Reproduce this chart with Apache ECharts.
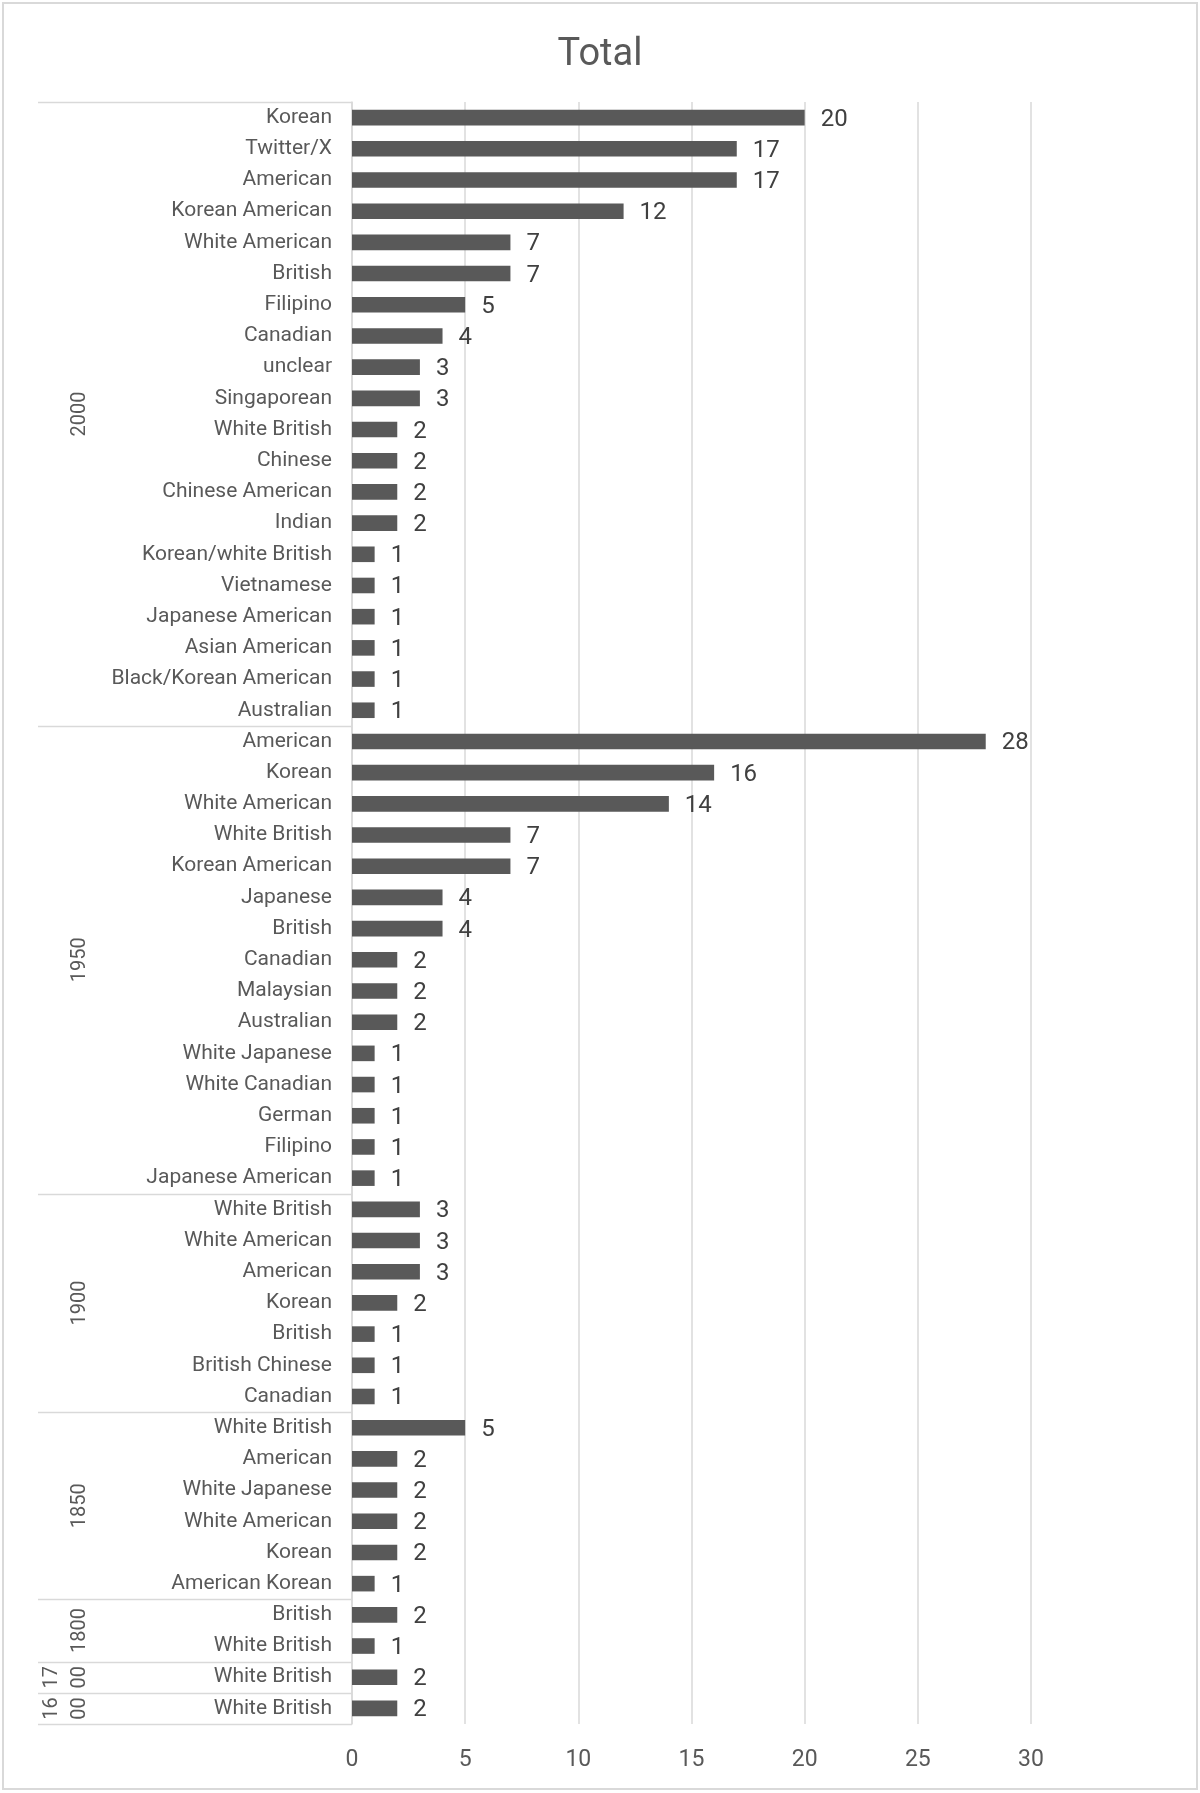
<!DOCTYPE html>
<html>
<head>
<meta charset="utf-8">
<script src="https://cdn.jsdelivr.net/npm/echarts@6/dist/echarts.min.js"></script>
<style>
  html, body { margin: 0; padding: 0; background: #fff; }
  #main { width: 1200px; height: 1793px; }
</style>
</head>
<body>
<div id="main"></div>
<script>
// group (year) labels, top to bottom
var groups = ['2000', '1950', '1900', '1850', '1800', '1700', '1600'];

var cats2000 = ['Korean', 'Twitter/X', 'American', 'Korean American', 'White American', 'British',
  'Filipino', 'Canadian', 'unclear', 'Singaporean', 'White British', 'Chinese', 'Chinese American',
  'Indian', 'Korean/white British', 'Vietnamese', 'Japanese American', 'Asian American',
  'Black/Korean American', 'Australian'];
var vals2000 = [20, 17, 17, 12, 7, 7, 5, 4, 3, 3, 2, 2, 2, 2, 1, 1, 1, 1, 1, 1];

var cats1950 = ['American', 'Korean', 'White American', 'White British', 'Korean American', 'Japanese',
  'British', 'Canadian', 'Malaysian', 'Australian', 'White Japanese', 'White Canadian', 'German',
  'Filipino', 'Japanese American'];
var vals1950 = [28, 16, 14, 7, 7, 4, 4, 2, 2, 2, 1, 1, 1, 1, 1];

var cats1900 = ['White British', 'White American', 'American', 'Korean', 'British', 'British Chinese', 'Canadian'];
var vals1900 = [3, 3, 3, 2, 1, 1, 1];

var cats1850 = ['White British', 'American', 'White Japanese', 'White American', 'Korean', 'American Korean'];
var vals1850 = [5, 2, 2, 2, 2, 1];

var cats1800 = ['British', 'White British'];
var vals1800 = [2, 1];

var cats1700 = ['White British'];
var vals1700 = [2];

var cats1600 = ['White British'];
var vals1600 = [2];

var xTicks = [0, 5, 10, 15, 20, 25, 30];

var groupCats = [cats2000, cats1950, cats1900, cats1850, cats1800, cats1700, cats1600];
var groupVals = [vals2000, vals1950, vals1900, vals1850, vals1800, vals1700, vals1600];

// flatten into one category axis (index keys keep duplicate names apart)
var labels = [], values = [], keys = [], groupStart = [];
groupCats.forEach(function (cats, g) {
  groupStart.push(labels.length);
  cats.forEach(function (c, i) {
    keys.push(String(labels.length));
    labels.push(c);
    values.push(groupVals[g][i]);
  });
});
groupStart.push(labels.length);

var chart = echarts.init(document.getElementById('main'));
var txt = '#595959';
chart.setOption({
  animation: false,
  title: {
    text: 'Total', left: 'center', top: 31,
    textStyle: { fontFamily: 'Roboto', fontSize: 38, fontWeight: 'normal', color: txt }
  },
  grid: { left: 352, right: 169, top: 102, bottom: 69 },
  xAxis: {
    type: 'value', min: xTicks[0], max: xTicks[xTicks.length - 1], interval: 5,
    axisLine: { show: false }, axisTick: { show: false },
    axisLabel: { fontFamily: 'Roboto', fontSize: 23, color: txt, margin: 25 },
    splitLine: { lineStyle: { color: '#d9d9d9', width: 1.5 } }
  },
  yAxis: {
    type: 'category', inverse: true, data: keys,
    axisTick: { show: false },
    axisLine: { lineStyle: { color: '#d9d9d9', width: 1.5 } },
    axisLabel: {
      interval: 0, margin: 20, fontFamily: 'Roboto', fontSize: 21, color: txt,
      formatter: function (v) { return labels[+v]; }
    }
  },
  series: [{
    type: 'bar', data: values, barWidth: '50%',
    itemStyle: { color: '#595959' },
    label: {
      show: true, position: 'right', distance: 16, offset: [0, 2],
      fontFamily: 'Roboto', fontSize: 24, color: '#404040'
    }
  }]
});

// group lines and rotated year labels, placed with the category scale
var c0 = chart.convertToPixel({ yAxisIndex: 0 }, 0);
var c1 = chart.convertToPixel({ yAxisIndex: 0 }, 1);
var band = c1 - c0;
function edge(i) { return c0 + band * i - band / 2; }
var graphics = [{
  type: 'rect', shape: { x: 3, y: 3, width: 1194, height: 1786 },
  style: { fill: 'none', stroke: '#d9d9d9', lineWidth: 2 }, silent: true
}];
groupStart.forEach(function (s) {
  var y = Math.round(edge(s)) + 0.5;
  graphics.push({
    type: 'line', shape: { x1: 38, y1: y, x2: 352, y2: y },
    style: { stroke: '#d9d9d9', lineWidth: 1.5 }, silent: true
  });
});
groups.forEach(function (g, k) {
  var a = groupStart[k], b = groupStart[k + 1];
  var yMid = (edge(a) + edge(b)) / 2;
  var wrap = (b - a) < 2;
  var text = wrap ? g.slice(0, 2) + '\n' + g.slice(2) : g;
  graphics.push({
    type: 'text', x: wrap ? 66 : 80, y: yMid, rotation: Math.PI / 2, silent: true,
    style: {
      text: text, fontFamily: 'Roboto', fontSize: 20, fill: txt, lineHeight: 28,
      align: 'center', verticalAlign: 'middle'
    }
  });
});
chart.setOption({ graphic: graphics });
</script>
</body>
</html>
